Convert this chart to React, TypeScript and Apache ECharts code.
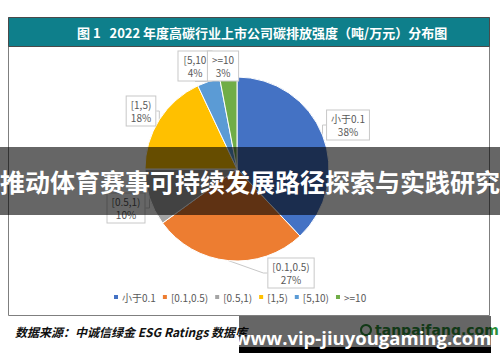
import React, { useEffect, useRef } from "react";
import * as echarts from "echarts";

const categories = ["小于0.1", "[0.1,0.5)", "[0.5,1)", "[1,5)", "[5,10)", ">=10"];
const shares = [38, 27, 10, 18, 4, 3];
const colors = ["#4472C4", "#ED7D31", "#A5A5A5", "#FFC000", "#5B9BD5", "#70AD47"];
const titleText = "图 1   2022 年度高碳行业上市公司碳排放强度（吨/万元）分布图";
const sourceText = "数据来源：中诚信绿金 ESG Ratings 数据库";
const bannerText = "推动体育赛事可持续发展路径探索与实践研究";
const watermarkText = "www.vip-jiuyougaming.com";

const labelSpots: [number, number][] = [
  [348, 125],
  [291, 273],
  [126, 208],
  [141, 111],
  [195, 66],
  [223, 66],
];

export default function App() {
  const ref = useRef<HTMLDivElement>(null);
  useEffect(() => {
    if (!ref.current) return;
    const chart = echarts.init(ref.current, undefined, { renderer: "svg" });
    const option: any = {
      animation: false,
      backgroundColor: "#ffffff",
      color: colors,
      legend: {
        bottom: 55,
        left: 107,
        itemWidth: 6,
        itemHeight: 6,
        itemGap: 5,
        icon: "rect",
        textStyle: { color: "#595959", fontSize: 10, fontFamily: "Noto Sans CJK SC", padding: [0, 0, 0, -2] },
        data: categories,
      },
      graphic: [
        {
          type: "rect",
          z: -1,
          shape: { x: 8.5, y: 17.5, width: 481, height: 298 },
          style: { fill: "#ffffff", stroke: "#7f7f7f", lineWidth: 1 },
        },
        {
          type: "rect",
          shape: { x: 8.5, y: 17.5, width: 481, height: 29 },
          style: { fill: "#0E7F8B", stroke: "#4a4a4a", lineWidth: 1 },
        },
        {
          type: "text",
          x: 77,
          y: 32,
          style: {
            text: titleText,
            fill: "#ffffff",
            fontSize: 13,
            fontWeight: "bold",
            fontFamily: "Noto Sans CJK SC",
            verticalAlign: "middle",
          },
        },
        {
          type: "text",
          x: 15,
          y: 331,
          style: {
            text: sourceText,
            fill: "#111111",
            fontSize: 12,
            fontWeight: "bold",
            fontStyle: "italic",
            fontFamily: "Noto Sans CJK SC",
            verticalAlign: "middle",
          },
        },
        {
          type: "circle",
          shape: { cx: 366, cy: 330, r: 5 },
          style: { fill: "none", stroke: "#2f8f3a", lineWidth: 2 },
        },
        {
          type: "text",
          x: 375,
          y: 330,
          style: {
            text: "tanpaifang.com",
            fill: "#2f8f3a",
            fontSize: 14,
            fontWeight: "bold",
            fontFamily: "DejaVu Sans",
            verticalAlign: "middle",
          },
        },
        {
          type: "rect",
          z: 100,
          shape: { x: 0, y: 147, width: 500, height: 68 },
          style: { fill: "rgba(0,0,0,0.6)" },
        },
        {
          type: "text",
          z: 101,
          x: 250,
          y: 181,
          style: {
            text: bannerText,
            fill: "#ffffff",
            fontSize: 25,
            fontWeight: "bold",
            fontFamily: "Noto Sans CJK SC",
            align: "center",
            verticalAlign: "middle",
          },
        },
        {
          type: "rect",
          z: 100,
          shape: { x: 239, y: 316, width: 252, height: 31 },
          style: { fill: "rgba(0,0,0,0.6)" },
        },
        {
          type: "rect",
          z: 100,
          shape: { x: 239, y: 347, width: 252, height: 6 },
          style: { fill: "#000000" },
        },
        {
          type: "text",
          z: 101,
          x: 363,
          y: 337,
          style: {
            text: watermarkText,
            fill: "#ffffff",
            fontSize: 18.5,
            fontWeight: "bold",
            fontFamily: "Open Sans",
            align: "center",
            verticalAlign: "middle",
          },
        },
      ],
      series: [
        {
          type: "pie",
          center: [237, 169],
          radius: [0, 92],
          startAngle: 90,
          clockwise: true,
          itemStyle: { borderColor: "#ffffff", borderWidth: 1 },
          label: {
            show: true,
            formatter: (p: any) => `${p.name}\n${p.value}%`,
            color: "#595959",
            fontSize: 10,
            fontFamily: "Noto Sans CJK SC",
            lineHeight: 13,
            align: "center",
            backgroundColor: "#ffffff",
            borderColor: "#c8c8c8",
            borderWidth: 1,
            padding: [2, 4, 1, 4],
          },
          labelLine: { show: true, length: 6, length2: 4, lineStyle: { color: "#c8c8c8", width: 1 } },
          labelLayout: (params: any) => {
            const spot = labelSpots[params.dataIndex];
            return { x: spot[0], y: spot[1], align: "center", verticalAlign: "middle" };
          },
          data: categories.map((name, i) => ({
            name,
            value: shares[i],
            label: i === 4 ? { width: 25, overflow: "truncate", ellipsis: "" } : undefined,
          })),
        },
      ],
    };
    chart.setOption(option);
    return () => chart.dispose();
  }, []);
  return (
    <div
      ref={ref}
      style={{ position: "fixed", left: 0, top: 0, width: 500, height: 362 }}
    />
  );
}
